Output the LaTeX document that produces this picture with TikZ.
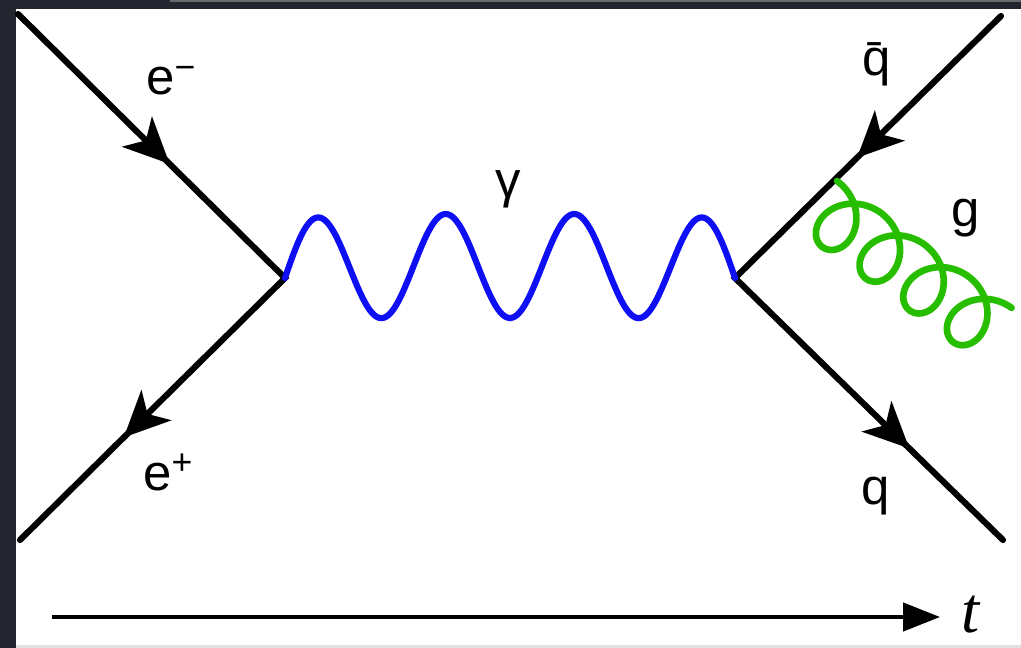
\documentclass[tikz,border=0pt]{standalone}
\usepackage{fontspec}
\setmainfont{Liberation Sans}
\newfontfamily\timefont{Liberation Serif}
\usetikzlibrary{arrows.meta,decorations.markings}
\definecolor{framegray}{RGB}{35,38,47}
\definecolor{photonblue}{RGB}{15,15,245}
\definecolor{gluongreen}{RGB}{40,190,0}
\tikzset{
  fermion/.style 2 args={line width=3.5pt,line join=miter,line cap=round,
    postaction={decorate},
    decoration={markings,
      mark=at position #1 with {\arrow{Stealth[length=26pt,width=24pt,inset=7pt]}},
      mark=at position #2 with {\arrow{Stealth[length=26pt,width=24pt,inset=7pt]}}}},
  photon/.style={photonblue,line width=3.5pt,line cap=round},
  gluon/.style={gluongreen,line width=3.8pt,line cap=round,line join=round},
  particle/.style={inner sep=0pt,anchor=base west,font=\fontsize{29}{34}\selectfont},
}
\begin{document}
\begin{tikzpicture}[x=0.02cm,y=-0.02cm]
\useasboundingbox (0,0) rectangle (1021,648);
\fill[framegray] (0,0) rectangle (1021,648);
\fill[gray!75!framegray] (170,0) rectangle (1021,2.5);
\fill[white] (16,9) rectangle (1021,645);
\fill[black!12] (16,645) rectangle (1021,648);

\coordinate (vl) at (285,278);
\coordinate (vr) at (735,278);
\coordinate (eminus) at (18,14);
\coordinate (eplus) at (20,540);
\coordinate (qbar) at (1001,16);
\coordinate (quark) at (1003,540);

\draw[fermion={0.285}{0.805}] (eminus) -- (vl) -- (eplus);
\draw[fermion={0.27}{0.825}] (qbar) -- (vr) -- (quark);

\draw[photon,domain=285:735,samples=250]
  plot (\x,{278-12*(1-(((\x-510)/225)^2)^4)-52*sin(2.8*(\x-285))});

\draw[gluon,variable=\t,domain=0:25.133,samples=500]
  plot ({837+0.809*(8.594*\t+30*sin(\t r))-0.588*31*(1-cos(\t r))},
        {181+0.588*(8.594*\t+30*sin(\t r))+0.809*31*(1-cos(\t r))});

\node[particle] (elabel) at (146,95) {e\textsuperscript{−}};
\node[particle] (plabel) at (143,490) {e\textsuperscript{+}};
\node[particle] (glabel) at (495,198) {γ};
\node[particle] (qbarlabel) at (862,76) {q̄};
\node[particle] (gllabel) at (951,227) {g};
\node[particle] (qlabel) at (861,504) {q};

\coordinate (tstart) at (52,617);
\coordinate (tend) at (940,617);
\draw[line width=2.3pt,-{Triangle[length=21pt,width=16pt]}] (tstart) -- (tend);
\node[inner sep=0pt,anchor=base west,font=\timefont\itshape\fontsize{37}{42}\selectfont]
  (tlabel) at (961,632) {t};
\end{tikzpicture}
\end{document}
